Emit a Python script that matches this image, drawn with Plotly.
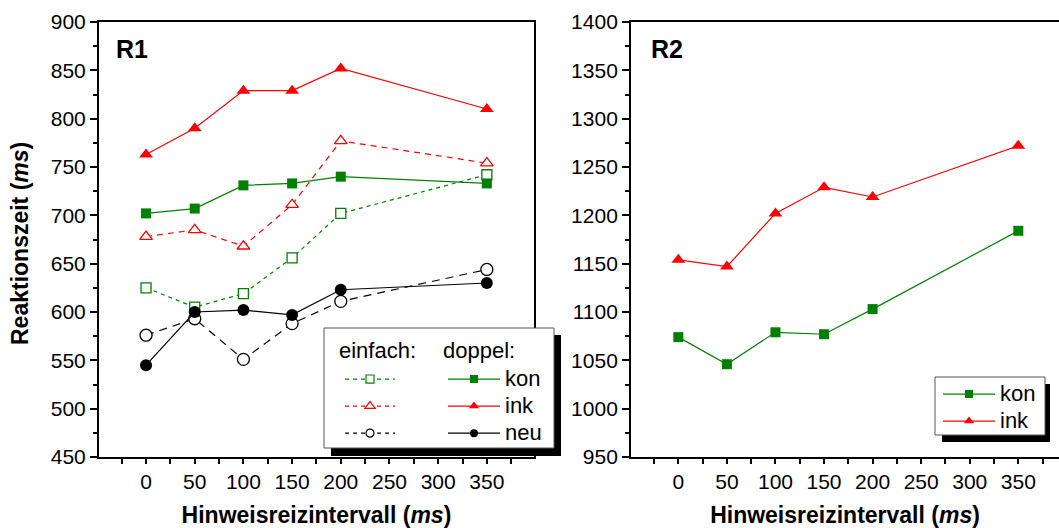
import plotly.graph_objects as go

# ---------------- data ----------------
isi = [0, 50, 100, 150, 200, 350]
r1_einfach_kon = [625, 605, 619, 656, 702, 742]
r1_einfach_ink = [678, 685, 668, 711, 777, 754]
r1_einfach_neu = [576, 593, 551, 588, 611, 644]
r1_doppel_kon = [702, 707, 731, 733, 740, 733]
r1_doppel_ink = [763, 790, 829, 829, 852, 810]
r1_doppel_neu = [545, 600, 602, 597, 623, 630]
r2_kon = [1074, 1046, 1079, 1077, 1103, 1184]
r2_ink = [1154, 1147, 1202, 1229, 1219, 1272]

GREEN = "#008000"
RED = "#FF0000"
BLACK = "#000000"
FONT = "Arial, Liberation Sans, sans-serif"

fig = go.Figure()

def open_series(x, y, color, symbol, size, dash, xa, ya):
    fig.add_trace(go.Scatter(
        x=x, y=y, mode="lines+markers", xaxis=xa, yaxis=ya, showlegend=False,
        line=dict(color=color, width=1.2, dash=dash),
        marker=dict(symbol=symbol, size=size, color="white",
                    line=dict(color=color, width=1.3))))

def filled_series(x, y, color, symbol, size, xa, ya):
    fig.add_trace(go.Scatter(
        x=x, y=y, mode="lines+markers", xaxis=xa, yaxis=ya, showlegend=False,
        line=dict(color=color, width=1.2),
        marker=dict(symbol=symbol, size=size, color=color,
                    line=dict(color=color, width=0))))

# R1 panel
open_series(isi, r1_einfach_kon, GREEN, "square", 10, "4px,4px", "x", "y")
open_series(isi, r1_einfach_ink, RED, "triangle-up", 11, "6px,5px", "x", "y")
open_series(isi, r1_einfach_neu, BLACK, "circle", 12, "8px,6px", "x", "y")
filled_series(isi, r1_doppel_kon, GREEN, "square", 10, "x", "y")
filled_series(isi, r1_doppel_ink, RED, "triangle-up", 12, "x", "y")
filled_series(isi, r1_doppel_neu, BLACK, "circle", 12, "x", "y")

# R2 panel
filled_series(isi, r2_kon, GREEN, "square", 10, "x2", "y2")
filled_series(isi, r2_ink, RED, "triangle-up", 12, "x2", "y2")

# legend entries (legend-only traces, no data): a line legend and a marker legend overlaid
def leg_line(name, color, dash, legend):
    label = f'<span style="font-size:22px">{name}</span>' if name else " "
    fig.add_trace(go.Scatter(
        x=[None], y=[None], mode="lines", name=label, legend=legend,
        line=dict(color=color, width=1.3, dash=dash)))

def leg_marker(color, symbol, filled, legend):
    fig.add_trace(go.Scatter(
        x=[None], y=[None], mode="markers", name=" ", legend=legend,
        marker=dict(symbol=symbol, size=8 if symbol != "triangle-up" else 9,
                    color=color if filled else "white",
                    line=dict(color=color, width=1.2 if not filled else 0))))

leg_line("", GREEN, "4px,4px", "legend")
leg_line("", RED, "4px,4px", "legend")
leg_line("", BLACK, "4px,4px", "legend")
leg_marker(GREEN, "square", False, "legend2")
leg_marker(RED, "triangle-up", False, "legend2")
leg_marker(BLACK, "circle", False, "legend2")
leg_line("kon", GREEN, "solid", "legend3")
leg_line("ink", RED, "solid", "legend3")
leg_line("neu", BLACK, "solid", "legend3")
leg_marker(GREEN, "square", True, "legend4")
leg_marker(RED, "triangle-up", True, "legend4")
leg_marker(BLACK, "circle", True, "legend4")
leg_line("kon", GREEN, "solid", "legend5")
leg_line("ink", RED, "solid", "legend5")
leg_marker(GREEN, "square", True, "legend6")
leg_marker(RED, "triangle-up", True, "legend6")

axis_common = dict(showline=True, linecolor="black", linewidth=2, showgrid=False,
                   zeroline=False, ticks="outside", tickcolor="black", tickwidth=1.5,
                   tickfont=dict(family=FONT, size=21, color="black"), automargin=False)

xa = dict(axis_common, tick0=0, dtick=50, ticklen=5,
          minor=dict(ticks="outside", dtick=25, tick0=0, ticklen=5, tickwidth=1.5, tickcolor="black"),
          title=dict(text="<b>Hinweisreizintervall (<i>ms</i>)</b>",
                     font=dict(family=FONT, size=23, color="black"), standoff=18))
ya = dict(axis_common, dtick=50, ticklen=7,
          minor=dict(ticks="outside", dtick=25, ticklen=4, tickwidth=1.5, tickcolor="black"))

lg_common = dict(bgcolor="rgba(0,0,0,0)", borderwidth=0, xanchor="left", yanchor="top",
                 font=dict(family=FONT, size=18.5, color="black"),
                 tracegroupgap=0, itemclick=False, itemdoubleclick=False)

def px_x(p):
    return (p - 99) / 960

def px_y(p):
    return (457 - p) / 435

fig.update_layout(
    template="none",
    width=1059, height=528,
    margin=dict(l=99, r=0, t=22, b=71),
    paper_bgcolor="white", plot_bgcolor="white",
    font=dict(family=FONT, size=19, color="black"),
    xaxis=dict(xa, domain=[0, 0.4531], range=[-48.3, 398.4], mirror=True, anchor="y"),
    yaxis=dict(ya, domain=[0, 1], range=[450, 900], mirror=True, anchor="x"),
    xaxis2=dict(xa, domain=[0.5542, 1], range=[-48.7, 391.9], mirror=True, anchor="y2"),
    yaxis2=dict(ya, domain=[0, 1], range=[950, 1400], mirror=False, anchor="x2"),
    legend=dict(lg_common, x=px_x(340), y=px_y(360.5), itemwidth=50),
    legend2=dict(lg_common, x=px_x(350), y=px_y(360.5), itemwidth=30),
    legend3=dict(lg_common, x=px_x(443), y=px_y(360.5), itemwidth=52),
    legend4=dict(lg_common, x=px_x(454), y=px_y(360.5), itemwidth=30),
    legend5=dict(lg_common, x=px_x(938), y=px_y(375.5), itemwidth=52),
    legend6=dict(lg_common, x=px_x(949), y=px_y(375.5), itemwidth=30),
    shapes=[
        dict(type="rect", xref="paper", yref="paper", layer="above",
             x0=px_x(331), x1=px_x(561), y0=px_y(456), y1=px_y(335),
             fillcolor="black", line=dict(width=0)),
        dict(type="rect", xref="paper", yref="paper", layer="above",
             x0=px_x(324), x1=px_x(554), y0=px_y(448), y1=px_y(328),
             fillcolor="white", line=dict(color="#555555", width=1)),
        dict(type="rect", xref="paper", yref="paper", layer="above",
             x0=px_x(942), x1=px_x(1050), y0=px_y(442), y1=px_y(384),
             fillcolor="black", line=dict(width=0)),
        dict(type="rect", xref="paper", yref="paper", layer="above",
             x0=px_x(935), x1=px_x(1045), y0=px_y(435), y1=px_y(377),
             fillcolor="white", line=dict(color="#555555", width=1)),
    ],
    annotations=[
        dict(text="<b>Reaktionszeit (<i>ms</i>)</b>", xref="paper", yref="paper",
             x=px_x(20), y=px_y(244), textangle=-90,
             xanchor="center", yanchor="middle", showarrow=False,
             font=dict(family=FONT, size=23, color="black")),
        dict(text="<b>R1</b>", xref="paper", yref="paper", x=px_x(114), y=px_y(49),
             xanchor="left", yanchor="middle", showarrow=False,
             font=dict(family=FONT, size=25, color="black")),
        dict(text="<b>R2</b>", xref="paper", yref="paper", x=px_x(649), y=px_y(49),
             xanchor="left", yanchor="middle", showarrow=False,
             font=dict(family=FONT, size=25, color="black")),
        dict(text="einfach:", xref="paper", yref="paper", x=px_x(337), y=px_y(350),
             xanchor="left", yanchor="middle", showarrow=False,
             font=dict(family=FONT, size=22, color="black")),
        dict(text="doppel:", xref="paper", yref="paper", x=px_x(441), y=px_y(350),
             xanchor="left", yanchor="middle", showarrow=False,
             font=dict(family=FONT, size=22, color="black")),
    ],
)

fig.write_html("out.html")
